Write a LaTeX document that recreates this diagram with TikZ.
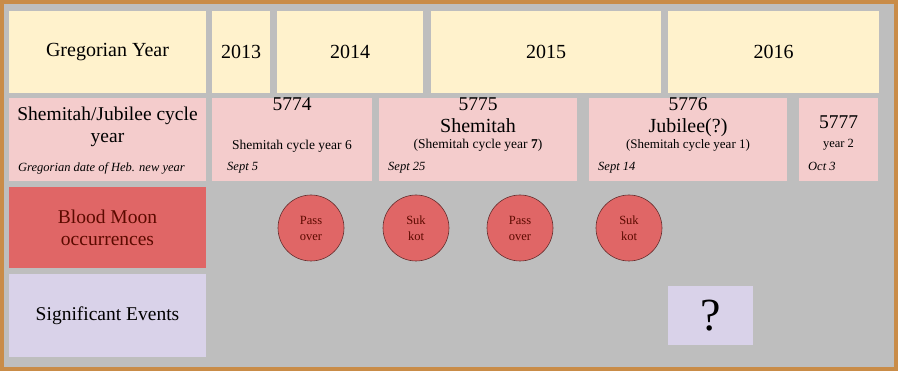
\documentclass[tikz,border=0pt]{standalone}
\usepackage{fontspec}
\setmainfont{Liberation Serif}
\usetikzlibrary{positioning}
\definecolor{frameor}{RGB}{201,140,72}
\definecolor{panelgray}{RGB}{190,190,190}
\definecolor{yearyel}{RGB}{255,242,204}
\definecolor{cycpink}{RGB}{244,204,204}
\definecolor{moonred}{RGB}{224,102,102}
\definecolor{moontxt}{RGB}{92,10,0}
\definecolor{evlav}{RGB}{217,210,233}
\tikzset{
  yrbox/.style={fill=yearyel, minimum height=82pt, inner sep=0pt,
                font=\fontsize{20}{24}\selectfont},
  cybox/.style={fill=cycpink, minimum height=83pt, inner sep=0pt},
  numtxt/.style={font=\fontsize{19.5}{22}\selectfont, inner sep=0pt, anchor=base},
  subtxt/.style={font=\fontsize{13.5}{16}\selectfont, inner sep=0pt, anchor=base},
  datetxt/.style={font=\fontsize{12.5}{15}\selectfont\itshape, inner sep=0pt, anchor=base west},
  rowlab/.style={minimum width=197pt, minimum height=82pt, inner sep=0pt, align=center,
                 font=\fontsize{19.5}{22}\selectfont},
  moon/.style={circle, fill=moonred, draw=moonred!45!black, line width=0.6pt,
               minimum size=66pt, inner sep=0pt, align=center, text=moontxt,
               font=\fontsize{12.5}{16}\selectfont},
}
\begin{document}
\begin{tikzpicture}[x=1pt, y=-1pt]
  \fill[panelgray] (0,0) rectangle (898,371);
  \draw[frameor, line width=4pt] (2,2) rectangle (896,369);
  % Gregorian years
  \node[yrbox, minimum width=197pt] (gy) at (107.5,52) {Gregorian Year};
  \node[yrbox, minimum width=58pt] (y13) at (241,52) {2013};
  \node[yrbox, minimum width=146pt] (y14) at (350,52) {2014};
  \node[yrbox, minimum width=230pt] (y15) at (546,52) {2015};
  \node[yrbox, minimum width=211pt] (y16) at (773.5,52) {2016};
  % Hebrew years
  \node[cybox, minimum width=197pt] (cl) at (107.5,139.5) {};
  \node[numtxt] (cla) at (107.5,121) {Shemitah/Jubilee cycle};
  \node[numtxt] (clb) at (107.5,143) {year};
  \node[datetxt] (clc) at (18,172) {Gregorian date of Heb. new year};
  \node[cybox, minimum width=160pt] (c74) at (292,139.5) {};
  \node[numtxt] (n74) at (292,111) {5774};
  \node[subtxt] (s74) at (292,150) {Shemitah cycle year 6};
  \node[datetxt] (d74) at (227,171) {Sept 5};
  \node[cybox, minimum width=198pt] (c75) at (478,139.5) {};
  \node[numtxt] (n75) at (478,111) {5775};
  \node[numtxt, font=\fontsize{20}{22}\selectfont] (t75) at (478,133) {Shemitah};
  \node[subtxt] (s75) at (478,149) {(Shemitah cycle year \textbf{7})};
  \node[datetxt] (d75) at (388,171) {Sept 25};
  \node[cybox, minimum width=198pt] (c76) at (688,139.5) {};
  \node[numtxt] (n76) at (688,111) {5776};
  \node[numtxt, font=\fontsize{20}{22}\selectfont] (t76) at (688,133) {Jubilee(?)};
  \node[subtxt, font=\fontsize{13}{16}\selectfont] (s76) at (688,149) {(Shemitah cycle year 1)};
  \node[datetxt] (d76) at (598,171) {Sept 14};
  \node[cybox, minimum width=79pt] (c77) at (838.5,139.5) {};
  \node[numtxt] (n77) at (838.5,129) {5777};
  \node[subtxt, font=\fontsize{12.5}{15}\selectfont] (s77) at (838.5,148) {year 2};
  \node[datetxt] (d77) at (808,171) {Oct 3};
  % blood moons
  \node[rowlab, fill=moonred, minimum height=81pt, text=moontxt] (bm) at (107.5,227.5)
       {Blood Moon\\occurrences};
  \node[moon] (m1) at (311,228) {Pass\\over};
  \node[moon] (m2) at (416,228) {Suk\\kot};
  \node[moon] (m3) at (520,228) {Pass\\over};
  \node[moon] (m4) at (629,228) {Suk\\kot};
  % events
  \node[rowlab, fill=evlav, minimum height=83pt] (se) at (107.5,315.5) {Significant Events};
  \node[fill=evlav, minimum width=85pt, minimum height=59pt, inner sep=0pt,
        font=\fontsize{46}{46}\selectfont] (q) at (710.5,315.5) {?};
\end{tikzpicture}
\end{document}
